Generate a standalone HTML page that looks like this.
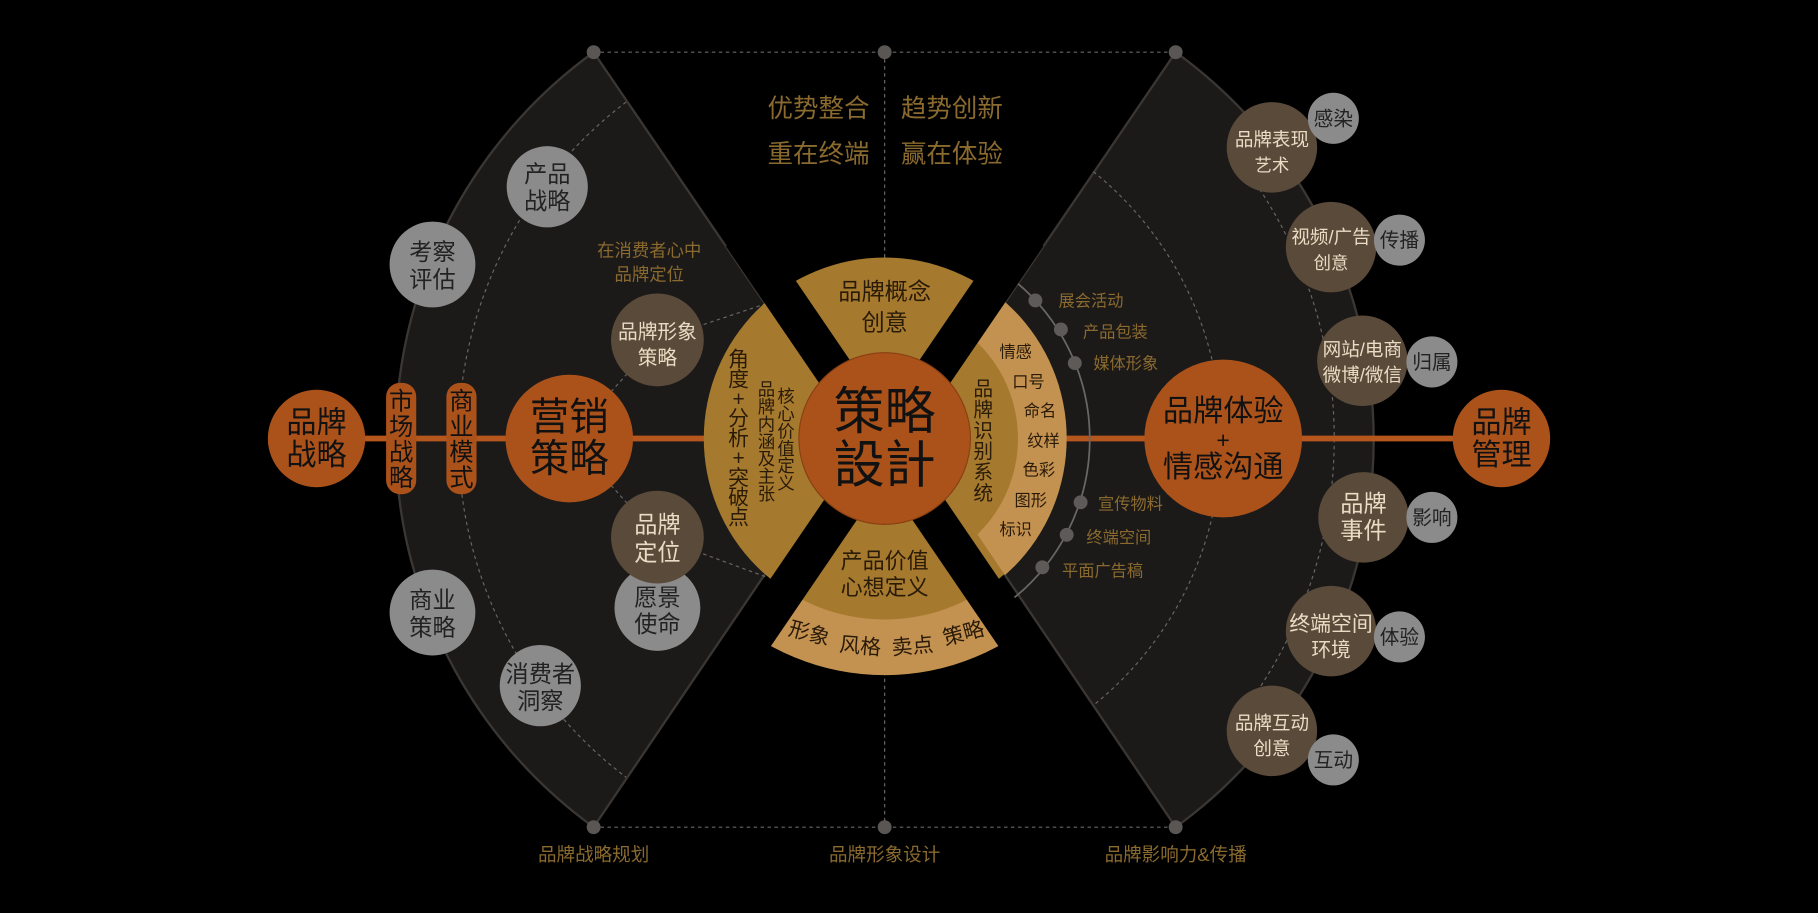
<!DOCTYPE html>
<html><head><meta charset="utf-8"><style>
html,body{margin:0;padding:0;background:#000;}
svg{display:block;}
text{font-family:"Liberation Sans","Noto Sans CJK SC",sans-serif;}
</style></head><body>
<svg width="1818" height="913" viewBox="0 0 1568 787" preserveAspectRatio="none" xmlns="http://www.w3.org/2000/svg">
<defs>
<clipPath id="rw"><polygon points="787,378 1014,45 1400,45 1400,713 1014,713"/></clipPath>
<clipPath id="bw"><polygon points="763,401 506,778 1020,778"/></clipPath>
<clipPath id="cr"><circle cx="763" cy="378" r="215"/></clipPath>
</defs>
<rect width="1568" height="787" fill="#000"/>
<path d="M739,378 L512,45 A412,412 0 0 0 512,713 Z" fill="#1c1a19" stroke="#3a3633" stroke-width="2"/>
<path d="M787,378 L1014,45 A412,412 0 0 1 1014,713 Z" fill="#1c1a19" stroke="#3a3633" stroke-width="2"/>
<g stroke="#6a6664" stroke-width="1" stroke-dasharray="3,3" fill="none">
<line x1="512" y1="45" x2="1014" y2="45"/>
<line x1="512" y1="713" x2="1014" y2="713"/>
<line x1="763" y1="45" x2="763" y2="713"/>
<path d="M540,88 A365,365 0 0 0 540,670"/>
<path d="M943,148 A295,295 0 0 1 943,608"/>
<path d="M1083,158 A391,391 0 0 1 1083,598"/>
<path d="M491,378 L567,293 L660,262"/>
<path d="M491,378 L567,463 L660,497"/>
</g>
<g fill="#5a5654">
<circle cx="512" cy="45" r="6"/><circle cx="763" cy="45" r="6"/><circle cx="1014" cy="45" r="6"/>
<circle cx="512" cy="713" r="6"/><circle cx="763" cy="713" r="6"/><circle cx="1014" cy="713" r="6"/>
</g>
<line x1="272" y1="378" x2="1295" y2="378" stroke="#b5561c" stroke-width="5"/>
<path d="M875,242 A176,176 0 0 1 875,515" stroke="#6a6866" stroke-width="1.5" fill="none"/>
<g fill="#5e5a57">
<circle cx="893" cy="259" r="6"/><circle cx="915" cy="284" r="6"/><circle cx="927" cy="313" r="6"/>
<circle cx="932" cy="433" r="6"/><circle cx="920" cy="461" r="6"/><circle cx="899" cy="489" r="6"/>
</g>
<g fill="#8a6a2e" font-size="14">
<text x="913" y="264">展会活动</text><text x="934" y="291">产品包装</text><text x="943" y="318">媒体形象</text>
<text x="947" y="439">宣传物料</text><text x="937" y="468">终端空间</text><text x="916" y="497">平面广告稿</text>
</g>
<circle cx="763" cy="378" r="204" fill="#c39250" clip-path="url(#bw)"/>
<circle cx="763" cy="378" r="156" fill="#a57a2e"/>
<circle cx="763" cy="378" r="157" fill="#c39250" clip-path="url(#rw)"/>
<circle cx="763" cy="378" r="115" fill="#a57a2e" clip-path="url(#rw)"/>
<g clip-path="url(#cr)" fill="#000">
<polygon points="512,45 552,45 1058,787 1018,787"/>
<polygon points="1014,45 974,45 468,787 508,787"/>
</g>
<circle cx="763" cy="378" r="74" fill="#ab521b" stroke="#8a3f12" stroke-width="1"/>
<text x="763" y="370" font-size="44" text-anchor="middle" fill="#111">策略</text>
<text x="763" y="416" font-size="44" text-anchor="middle" fill="#111">設計</text>
<g fill="#2a1a08" text-anchor="middle">
<text x="763" y="258" font-size="20">品牌概念</text>
<text x="763" y="285" font-size="20">创意</text>
<text x="763" y="490" font-size="19">产品价值</text>
<text x="763" y="513" font-size="19">心想定义</text>
<text x="698" y="552" font-size="18" transform="rotate(15 698 546)">形象</text>
<text x="742" y="563" font-size="18" transform="rotate(5 742 557)">风格</text>
<text x="787" y="563" font-size="18" transform="rotate(-5 787 557)">卖点</text>
<text x="831" y="552" font-size="18" transform="rotate(-15 831 546)">策略</text>
<g font-size="18">
<text x="637" y="316">角</text><text x="637" y="333">度</text><text x="637" y="350">+</text><text x="637" y="367">分</text>
<text x="637" y="384">析</text><text x="637" y="401">+</text><text x="637" y="418">突</text><text x="637" y="435">破</text><text x="637" y="452">点</text>
</g>
<g font-size="15">
<text x="661" y="341">品</text><text x="661" y="356">牌</text><text x="661" y="371">内</text><text x="661" y="386">涵</text><text x="661" y="401">及</text><text x="661" y="416">主</text><text x="661" y="431">张</text>
<text x="678" y="347">核</text><text x="678" y="362">心</text><text x="678" y="377">价</text><text x="678" y="392">值</text><text x="678" y="407">定</text><text x="678" y="422">义</text>
</g>
<g font-size="17">
<text x="848" y="341">品</text><text x="848" y="359">牌</text><text x="848" y="377">识</text><text x="848" y="395">别</text><text x="848" y="413">系</text><text x="848" y="431">统</text>
</g>
<g font-size="14">
<text x="876" y="308">情感</text><text x="887" y="334">口号</text><text x="897" y="359">命名</text>
<text x="900" y="385">纹样</text><text x="896" y="410">色彩</text><text x="889" y="436">图形</text><text x="876" y="461">标识</text>
</g>
</g>
<g fill="#8a6a2e" font-size="22" text-anchor="middle">
<text x="706" y="101">优势整合</text><text x="821" y="101">趋势创新</text>
<text x="706" y="140">重在终端</text><text x="821" y="140">赢在体验</text>
</g>
<g fill="#8a6a2e" font-size="15" text-anchor="middle">
<text x="560" y="221">在消费者心中</text><text x="560" y="242">品牌定位</text>
</g>
<g fill="#8a6a2e" font-size="16" text-anchor="middle">
<text x="512" y="742">品牌战略规划</text><text x="763" y="742">品牌形象设计</text><text x="1014" y="742">品牌影响力&amp;传播</text>
</g>
<circle cx="273" cy="378" r="42" fill="#ab521b"/>
<g fill="#111" text-anchor="middle" font-size="26"><text x="273" y="373">品牌</text><text x="273" y="401">战略</text></g>
<rect x="333" y="330" width="26" height="96" rx="12" fill="#ab521b"/>
<rect x="385" y="330" width="26" height="96" rx="12" fill="#ab521b"/>
<g fill="#111" text-anchor="middle" font-size="21">
<text x="346" y="353">市</text><text x="346" y="375">场</text><text x="346" y="397">战</text><text x="346" y="419">略</text>
<text x="398" y="353">商</text><text x="398" y="375">业</text><text x="398" y="397">模</text><text x="398" y="419">式</text>
</g>
<circle cx="491" cy="378" r="55" fill="#ab521b"/>
<g fill="#111" text-anchor="middle" font-size="34"><text x="491" y="371">营销</text><text x="491" y="407">策略</text></g>
<g fill="#8c8b8c">
<circle cx="472" cy="161" r="35"/><circle cx="373" cy="228" r="37"/><circle cx="373" cy="528" r="37"/>
<circle cx="466" cy="591" r="35"/><circle cx="567" cy="524" r="37"/>
</g>
<g fill="#222" text-anchor="middle" font-size="20">
<text x="472" y="157">产品</text><text x="472" y="180">战略</text>
<text x="373" y="224">考察</text><text x="373" y="248">评估</text>
<text x="373" y="524">商业</text><text x="373" y="548">策略</text>
<text x="466" y="588">消费者</text><text x="466" y="611">洞察</text>
<text x="567" y="522">愿景</text><text x="567" y="545">使命</text>
</g>
<g fill="#5a4a3a"><circle cx="567" cy="293" r="40"/><circle cx="567" cy="463" r="40"/></g>
<g fill="#eadcc4" text-anchor="middle">
<text x="567" y="292" font-size="17">品牌形象</text><text x="567" y="314" font-size="17">策略</text>
<text x="567" y="459" font-size="20">品牌</text><text x="567" y="483" font-size="20">定位</text>
</g>
<circle cx="1055" cy="378" r="68" fill="#ab521b"/>
<g fill="#111" text-anchor="middle" font-size="26"><text x="1055" y="363">品牌体验</text><text x="1055" y="386" font-size="20">+</text><text x="1055" y="411">情感沟通</text></g>
<circle cx="1295" cy="378" r="42" fill="#ab521b"/>
<g fill="#111" text-anchor="middle" font-size="26"><text x="1295" y="373">品牌</text><text x="1295" y="401">管理</text></g>
<g fill="#5a4a3a">
<circle cx="1097" cy="127" r="39"/><circle cx="1148" cy="213" r="39"/><circle cx="1175" cy="311" r="39"/>
<circle cx="1176" cy="446" r="39"/><circle cx="1148" cy="544" r="39"/><circle cx="1097" cy="630" r="39"/>
</g>
<g fill="#8c8b8c">
<circle cx="1150" cy="102" r="22"/><circle cx="1207" cy="207" r="22"/><circle cx="1235" cy="312" r="22"/>
<circle cx="1235" cy="446" r="22"/><circle cx="1207" cy="549" r="22"/><circle cx="1150" cy="655" r="22"/>
</g>
<g fill="#eadcc4" text-anchor="middle" font-size="16">
<text x="1097" y="126">品牌表现</text><text x="1097" y="148" font-size="15">艺术</text>
<text x="1148" y="210">视频/广告</text><text x="1148" y="232" font-size="15">创意</text>
<text x="1175" y="307">网站/电商</text><text x="1175" y="329">微博/微信</text>
<text x="1176" y="441" font-size="20">品牌</text><text x="1176" y="464" font-size="20">事件</text>
<text x="1148" y="544" font-size="18">终端空间</text><text x="1148" y="566" font-size="17">环境</text>
<text x="1097" y="629">品牌互动</text><text x="1097" y="651">创意</text>
</g>
<g fill="#222" text-anchor="middle" font-size="17">
<text x="1150" y="108">感染</text><text x="1207" y="213">传播</text><text x="1235" y="318">归属</text>
<text x="1235" y="452">影响</text><text x="1207" y="555">体验</text><text x="1150" y="661">互动</text>
</g>
</svg>
</body></html>
